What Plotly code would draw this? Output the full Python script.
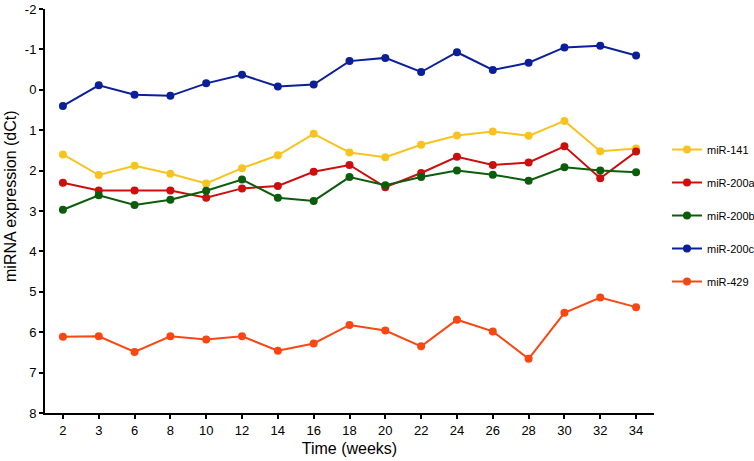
import plotly.graph_objects as go

weeks = ["2", "3", "6", "8", "10", "12", "14", "16", "18", "20", "22", "24", "26", "28", "30", "32", "34"]
y_ticks = [-2, -1, 0, 1, 2, 3, 4, 5, 6, 7, 8]
y_ticklabels = ["-2", "-1", "0", "1", "2", "3", "4", "5", "6", "7", "8"]

mir141 = [1.60, 2.11, 1.88, 2.08, 2.32, 1.94, 1.62, 1.09, 1.55, 1.67, 1.36, 1.13, 1.03, 1.14, 0.77, 1.52, 1.45]
mir200a = [2.30, 2.49, 2.49, 2.49, 2.67, 2.44, 2.38, 2.03, 1.86, 2.41, 2.06, 1.66, 1.86, 1.80, 1.40, 2.19, 1.53]
mir200b = [2.97, 2.61, 2.85, 2.72, 2.50, 2.22, 2.67, 2.75, 2.16, 2.36, 2.16, 2.00, 2.10, 2.25, 1.92, 2.00, 2.04]
mir200c = [0.40, -0.11, 0.12, 0.15, -0.16, -0.37, -0.08, -0.13, -0.71, -0.79, -0.44, -0.93, -0.49, -0.67, -1.05, -1.09, -0.85]
mir429 = [6.11, 6.10, 6.49, 6.10, 6.18, 6.10, 6.46, 6.28, 5.82, 5.96, 6.35, 5.69, 5.98, 6.66, 5.52, 5.14, 5.38]

series = [
    ("miR-141", mir141, "#F9C31F"),
    ("miR-200a", mir200a, "#CC0E0E"),
    ("miR-200b", mir200b, "#0B5C0B"),
    ("miR-200c", mir200c, "#0B1F99"),
    ("miR-429", mir429, "#FA4613"),
]

fig = go.Figure()
for name, vals, color in series:
    fig.add_trace(go.Scatter(
        x=weeks, y=vals, name=name, mode="lines+markers",
        line=dict(color=color, width=2),
        marker=dict(color=color, size=8),
        legendgroup=name,
    ))

fig.update_layout(
    width=754, height=461,
    margin=dict(l=45, r=100, t=9, b=48, autoexpand=False),
    plot_bgcolor="white", paper_bgcolor="white",
    font=dict(family="Liberation Sans, Arial, sans-serif", color="black"),
    showlegend=True,
    legend=dict(
        xref="container", yref="container",
        x=667 / 754, xanchor="left", y=1 - 135 / 461, yanchor="top",
        font=dict(size=11), tracegroupgap=14,
        itemwidth=30, bgcolor="rgba(0,0,0,0)",
    ),
    annotations=[dict(
        text="miRNA expression (dCt)", textangle=-90,
        xref="paper", yref="paper",
        x=(10 - 45) / 609, y=1 - (196 - 9) / 404,
        xanchor="center", yanchor="middle", showarrow=False,
        font=dict(size=16),
    )],
)
fig.update_xaxes(
    type="category", range=[-0.5, 16.5],
    showline=True, linecolor="black", linewidth=2,
    ticks="outside", ticklen=4, tickwidth=2, tickcolor="black",
    tickfont=dict(size=13), showgrid=False, zeroline=False,
    title=dict(text="Time (weeks)", font=dict(size=16), standoff=6),
)
fig.update_yaxes(
    range=[8, -2], tickvals=y_ticks, ticktext=y_ticklabels,
    showline=True, linecolor="black", linewidth=2,
    ticks="outside", ticklen=4, tickwidth=2, tickcolor="black",
    tickfont=dict(size=13), showgrid=False, zeroline=False,
)

fig.write_html("out.html", config={"displayModeBar": False},
               post_script="document.body.style.margin='0';")
